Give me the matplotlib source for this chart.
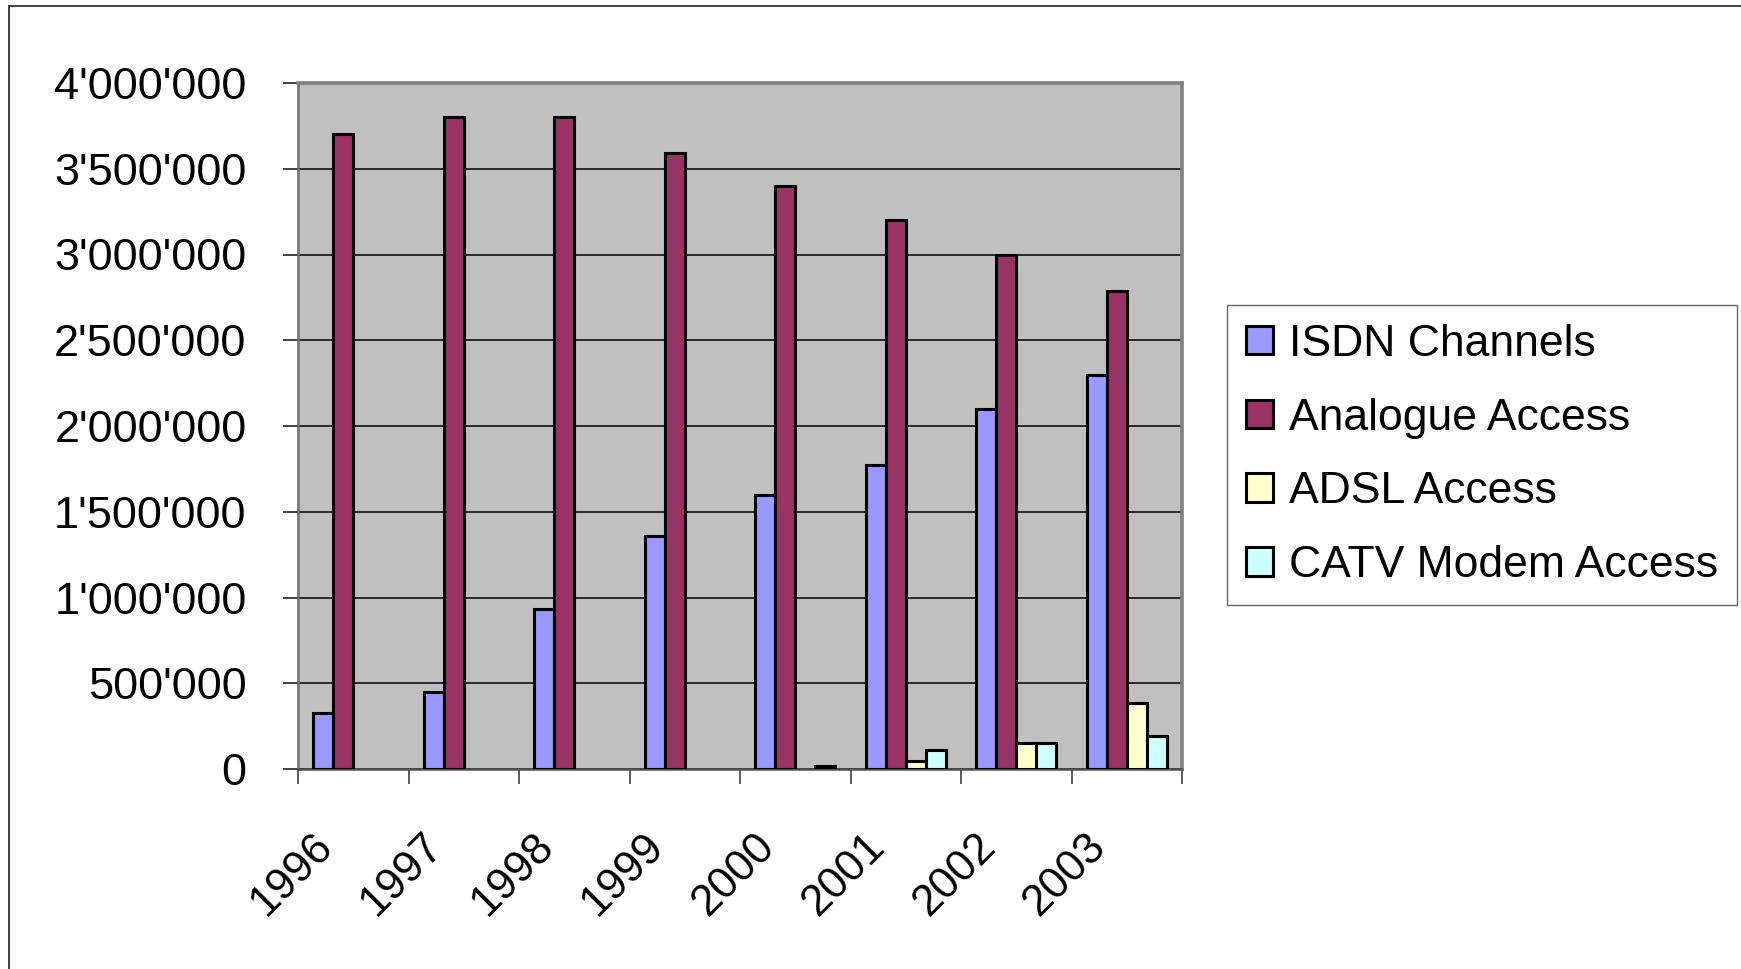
import numpy as np
import matplotlib.pyplot as plt
import matplotlib.transforms as mtransforms
from matplotlib.patches import Rectangle
from matplotlib.ticker import FuncFormatter, MultipleLocator

plt.rcParams['font.family'] = ['Liberation Sans', 'DejaVu Sans']

years = ['1996', '1997', '1998', '1999', '2000', '2001', '2002', '2003']
isdn = [325000, 450000, 935000, 1360000, 1600000, 1775000, 2100000, 2295000]
analogue = [3700000, 3800000, 3800000, 3590000, 3400000, 3200000, 3000000, 2790000]
adsl = [np.nan, np.nan, np.nan, np.nan, np.nan, 45000, 150000, 385000]
catv = [np.nan, np.nan, np.nan, np.nan, 15000, 110000, 150000, 190000]

series = [
    ('ISDN Channels', isdn, '#9999FF'),
    ('Analogue Access', analogue, '#993366'),
    ('ADSL Access', adsl, '#FFFFCC'),
    ('CATV Modem Access', catv, '#CCFFFF'),
]

fig = plt.figure(figsize=(17.41, 9.69), dpi=100)
ax = fig.add_axes([298 / 1741, 1 - 769 / 969, 884 / 1741, 686 / 969])
ax.set_facecolor('#C0C0C0')

x = np.arange(len(years))
w = 1 / 5.5  # excel gap width 150%
for i, (name, vals, col) in enumerate(series):
    ax.bar(x + (i - 1.5) * w, vals, width=w, color=col, edgecolor='black',
           linewidth=2.2, label=name, zorder=3)

ax.set_xlim(-0.5, len(years) - 0.5)
ax.set_ylim(0, 4000000)
ax.yaxis.set_major_locator(MultipleLocator(500000))
ax.yaxis.set_major_formatter(FuncFormatter(lambda v, p: f"{int(v):,}".replace(',', "'")))
ax.grid(axis='y', color='black', linewidth=1.1, zorder=1)
ax.set_axisbelow(True)

# ticks on category borders, labels under the centers
ax.set_xticks(np.arange(-0.5, len(years)))
ax.set_xticklabels([])
ax.set_xticks(x, minor=True)
ax.set_xticklabels(years, minor=True, rotation=45, ha='right', va='center',
                   rotation_mode='anchor', fontsize=31.5)
ax.tick_params(axis='x', which='major', length=11, width=1.2, color='#404040', direction='out')
ax.tick_params(axis='x', which='minor', length=0, pad=51)
ax.tick_params(axis='y', length=11, width=1.2, color='#202020', pad=26, labelsize=32.5)
shift = mtransforms.ScaledTranslation(-27 / 100, 0, fig.dpi_scale_trans)
for lab in ax.get_xticklabels(minor=True):
    lab.set_transform(lab.get_transform() + shift)

for s in ['top', 'right']:
    ax.spines[s].set_color('#808080')
    ax.spines[s].set_linewidth(2.6)
ax.spines['left'].set_color('#707070')
ax.spines['left'].set_linewidth(1.8)
ax.spines['bottom'].set_color('#505050')
ax.spines['bottom'].set_linewidth(1.8)

leg = fig.legend(loc='upper left', bbox_to_anchor=(1227 / 1741, 1 - 305 / 969),
                 fontsize=32, frameon=True, fancybox=False, borderpad=0.42,
                 borderaxespad=0, handlelength=0.62, handleheight=0.62,
                 handletextpad=0.36, labelspacing=0.74)
leg.get_frame().set_edgecolor('#404040')
leg.get_frame().set_linewidth(1.0)

# outer chart border
fig.patches.append(Rectangle((8.5 / 1741, -0.1), 2, 1 - 5.5 / 969 + 0.1,
                             transform=fig.transFigure, fill=False,
                             edgecolor='#404040', linewidth=1.4))

fig.savefig('out.png', dpi=100)
